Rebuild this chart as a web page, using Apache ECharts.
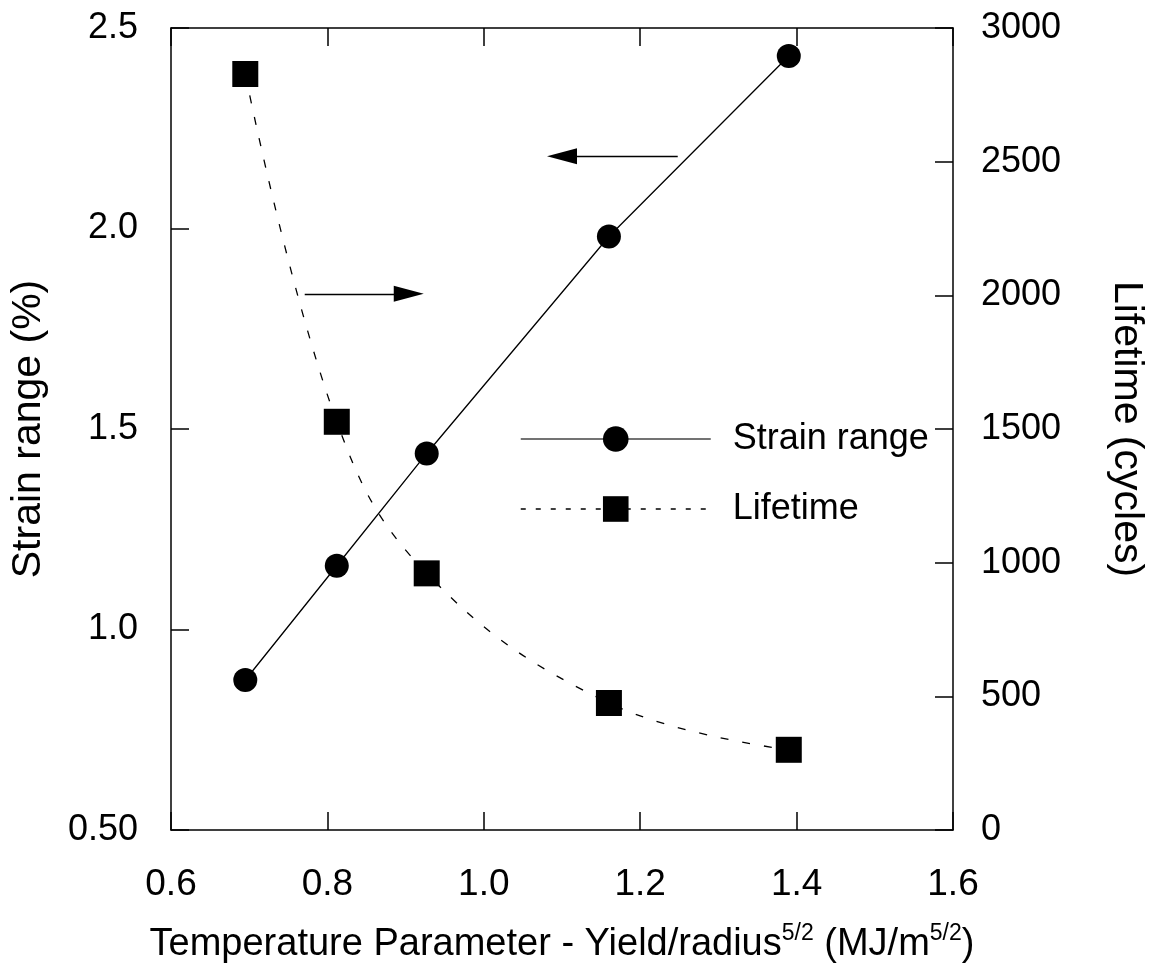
<!DOCTYPE html>
<html>
<head>
<meta charset="utf-8">
<script src="https://cdn.jsdelivr.net/npm/echarts@6/dist/echarts.min.js"></script>
<style>
  html, body { margin: 0; padding: 0; background: #fff; }
  #chart { width: 1155px; height: 969px; }
</style>
</head>
<body>
<div id="chart"></div>
<script>
  // values
  const xValues = [0.695, 0.812, 0.927, 1.16, 1.39];
  const strainRange = [0.874, 1.159, 1.439, 1.98, 2.43];
  const lifetime = [2828, 1527, 960, 475, 300];
  // arrows: [x from, x to, y on left axis]
  const arrowLeft = [1.248, 1.1, 2.18];
  const arrowRight = [0.771, 0.904, 1.837];

  const font = '"Liberation Sans", Arial, sans-serif';
  const black = '#000';

  const myChart = echarts.init(document.getElementById('chart'));

  const axisLineStyle = { color: black, width: 1.5 };
  const tickStyle = { show: true, inside: true, length: 18, lineStyle: { color: black, width: 1.5 } };

  const options = {
    animation: false,
    backgroundColor: '#fff',
    textStyle: { fontFamily: font, color: black },
    grid: { left: 166, right: 190, top: 28, bottom: 139 },
    legend: {
      orient: 'vertical',
      left: 515,
      top: 416,
      itemWidth: 190,
      itemHeight: 32,
      itemGap: 34,
      selectedMode: false,
      textStyle: { fontSize: 36, fontFamily: font, color: black, padding: [0, 0, 0, 17] },
      data: [
        { name: 'Strain range', lineStyle: { color: '#444', width: 1.5 } },
        { name: 'Lifetime', lineStyle: { type: [5, 10], width: 1.5 } },
      ],
    },
    xAxis: [
      {
        type: 'value',
        min: 0.6,
        max: 1.6,
        interval: 0.2,
        name: 'Temperature Parameter - Yield/radius{sup|5/2} (MJ/m{sup|5/2})',
        nameLocation: 'middle',
        nameGap: 92,
        nameTextStyle: {
          fontSize: 38,
          fontFamily: font,
          color: black,
          rich: {
            sup: { fontSize: 23, fontFamily: font, color: black, verticalAlign: 'top', padding: [0, 0, 22, 0] },
          },
        },
        axisLine: { lineStyle: axisLineStyle },
        axisTick: tickStyle,
        axisLabel: { fontSize: 37, color: black, margin: 36, formatter: (v) => v.toFixed(1) },
        splitLine: { show: false },
      },
      {
        type: 'value',
        position: 'top',
        min: 0.6,
        max: 1.6,
        interval: 0.2,
        axisLine: { lineStyle: axisLineStyle },
        axisTick: tickStyle,
        axisLabel: { show: false },
        splitLine: { show: false },
      },
    ],
    yAxis: [
      {
        type: 'value',
        min: 0.5,
        max: 2.5,
        interval: 0.5,
        name: 'Strain range (%)',
        nameLocation: 'middle',
        nameGap: 122,
        nameTextStyle: { fontSize: 41, fontFamily: font, color: black },
        axisLine: { show: true, lineStyle: axisLineStyle },
        axisTick: tickStyle,
        axisLabel: {
          fontSize: 36,
          color: black,
          margin: 33,
          formatter: (v) => (v === 0.5 ? '0.50' : v.toFixed(1)),
        },
        splitLine: { show: false },
      },
      {
        type: 'value',
        min: 0,
        max: 3000,
        interval: 500,
        name: 'Lifetime (cycles)',
        nameLocation: 'middle',
        nameRotate: -90,
        nameGap: 153,
        nameTextStyle: { fontSize: 41, fontFamily: font, color: black },
        axisLine: { show: true, lineStyle: axisLineStyle },
        axisTick: tickStyle,
        axisLabel: { fontSize: 36, color: black, margin: 28, formatter: (v) => String(v) },
        splitLine: { show: false },
      },
    ],
    series: [
      {
        name: 'Strain range',
        type: 'line',
        yAxisIndex: 0,
        data: xValues.map((x, i) => [x, strainRange[i]]),
        symbol: 'circle',
        symbolSize: 24,
        itemStyle: { color: black },
        lineStyle: { color: black, width: 1.3 },
        markLine: {
          silent: true,
          symbol: ['none', 'triangle'],
          symbolSize: [16, 30],
          label: { show: false },
          lineStyle: { color: black, width: 1.3, type: 'solid' },
          data: [
            [{ coord: [arrowLeft[0], arrowLeft[2]] }, { coord: [arrowLeft[1], arrowLeft[2]] }],
            [{ coord: [arrowRight[0], arrowRight[2]] }, { coord: [arrowRight[1], arrowRight[2]] }],
          ],
        },
      },
      {
        name: 'Lifetime',
        type: 'line',
        yAxisIndex: 1,
        data: xValues.map((x, i) => [x, lifetime[i]]),
        symbol: 'rect',
        symbolSize: 26,
        smooth: 0.4,
        itemStyle: { color: black },
        lineStyle: { color: black, width: 1.3, type: [8, 14] },
      },
    ],
  };

  myChart.setOption(options);
</script>
</body>
</html>
